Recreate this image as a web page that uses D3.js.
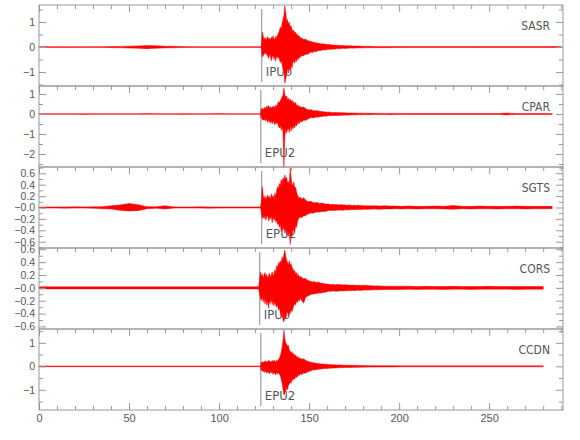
<!DOCTYPE html>
<html>
<head>
<meta charset="utf-8">
<script src="https://cdn.jsdelivr.net/npm/d3@7"></script>
<style>
  body { margin: 0; background: #fff; }
  svg { display: block; font-family: "Liberation Sans Narrow", "DejaVu Sans Condensed", "Liberation Sans", sans-serif; }
</style>
</head>
<body>
<script>
// station names, phase picks (seconds) and phase names
var stations = ["SASR", "CPAR", "SGTS", "CORS", "CCDN"];
var phases = ["IPU0", "EPU2", "EPU2", "IPU0", "EPU2"];
var picks = [123.7, 123.2, 123.7, 122.6, 123.2];

// y range of every panel (as drawn)
var yDomains = [[-1.56, 1.68], [-2.65, 1.4], [-0.71, 0.71], [-0.64, 0.62], [-1.86, 1.59]];
var yMajor = [[-1, 0, 1], [-2, -1, 0, 1], [-0.6, -0.4, -0.2, 0, 0.2, 0.4, 0.6], [-0.6, -0.4, -0.2, 0, 0.2, 0.4, 0.6], [-1, 0, 1]];
var yLabels = [["\u22121", "0", "1"], ["\u22122", "\u22121", "0", "1"],
  ["\u22120.6", "\u22120.4", "\u22120.2", "\u22120.0", "0.2", "0.4", "0.6"],
  ["\u22120.6", "\u22120.4", "\u22120.2", "\u22120.0", "0.2", "0.4", "0.6"],
  ["\u22121", "0", "1"]];
var yMinor = [[-1.5, -0.5, 0.5, 1.5], [-2.5, -1.5, -0.5, 0.5], [-0.7, -0.5, -0.3, -0.1, 0.1, 0.3, 0.5, 0.7],
  [-0.5, -0.3, -0.1, 0.1, 0.3, 0.5], [-1.5, -0.5, 0.5, 1.5]];
var xMajor = [0, 50, 100, 150, 200, 250];
var xMinor = [10, 20, 30, 40, 60, 70, 80, 90, 110, 120, 130, 140, 160, 170, 180, 190, 210, 220, 230, 240, 260, 270, 280, 290];

// sample times (s) of the trace envelopes
var times = [0, 5, 10, 15, 20, 25, 30, 35, 40, 45, 50, 55, 60, 65, 70, 75, 80, 85, 90, 95, 100, 105, 110, 115, 120, 122,
  123, 123.5, 124, 124.5, 125, 125.5, 126, 126.5, 127, 127.5, 128, 128.5, 129, 129.5, 130, 130.5, 131, 131.5, 132, 132.5,
  133, 133.5, 134, 134.5, 135, 135.5, 136, 136.5, 137, 137.5, 138, 138.5, 139, 139.5, 140, 140.5, 141, 141.5, 142, 142.5,
  143, 143.5, 144, 144.5, 145,
  146, 147, 148, 149, 150, 151, 152, 153, 154, 155, 156, 157, 158, 159, 160, 161, 162, 163, 164, 165, 166, 167, 168, 169,
  170, 171, 172, 173, 174, 175, 176, 177, 178, 179, 180,
  183, 186, 189, 192, 195, 198, 201,
  205, 210, 215, 220, 225, 230, 235, 240, 245, 250, 255, 260, 265, 270, 275, 280, 285, 290];

// upper / lower envelope of each trace
var sasrHi = [.015, .015, .015, .015, .015, .015, .015, .015, .02, .025, .035, .045, .06, .05, .035, .03, .02, .015, .015, .015, .015, .015, .015, .015, .015, .015,
  .015, .05, .60, .45, .30, .38, .28, .35, .42, .30, .36, .28, .40, .33, .45, .35, .30, .42, .38, .48, .55, .65, .80, .70, .95, 1.10, 1.25, 1.65, 1.40, 1.05, 1.10, .90, 1.00, .80, .85, .70, .62, .68, .55, .60, .48, .52, .42, .45, .38,
  .35, .30, .32, .26, .24, .22, .20, .18, .17, .15, .14, .12, .13, .11, .10, .10, .09, .08, .08, .07, .07, .06, .06, .06, .05, .05, .05, .05, .04, .04, .04, .04, .04, .03, .03,
  .03, .025, .025, .025, .025, .02, .02,
  .02, .02, .02, .02, .02, .02, .02, .02, .02, .02, .02, .02, .02, .02, .02, .02, .02, .02];
var sasrLo = [-.015, -.015, -.015, -.02, -.015, -.015, -.015, -.015, -.025, -.03, -.04, -.05, -.065, -.045, -.035, -.03, -.02, -.015, -.015, -.015, -.015, -.015, -.015, -.015, -.015, -.015,
  -.015, -.05, -.40, -.35, -.28, -.22, -.30, -.25, -.38, -.45, -.30, -.35, -.55, -.40, -.32, -.50, -.38, -.57, -.35, -.45, -.40, -.50, -.62, -.55, -.70, -.85, -.95, -1.45, -1.30, -1.10, -.85, -1.05, -.80, -.95, -.75, -.85, -.60, -.55, -.65, -.50, -.58, -.45, -.50, -.40, -.42,
  -.33, -.36, -.28, -.30, -.25, -.20, -.22, -.17, -.19, -.14, -.15, -.13, -.11, -.12, -.10, -.09, -.10, -.08, -.09, -.07, -.06, -.07, -.06, -.05, -.06, -.05, -.05, -.04, -.05, -.04, -.04, -.04, -.03, -.04, -.03,
  -.03, -.025, -.025, -.025, -.025, -.02, -.02,
  -.02, -.02, -.02, -.02, -.02, -.02, -.02, -.02, -.02, -.02, -.02, -.02, -.02, -.02, -.02, -.02, -.02, -.02];

var cparHi = [.015, .015, .015, .015, .015, .015, .015, .015, .015, .015, .015, .015, .02, .015, .015, .015, .015, .015, .015, .015, .02, .015, .015, .015, .015, .015,
  .015, .25, .30, .22, .28, .35, .25, .40, .32, .42, .30, .36, .28, .38, .33, .40, .30, .45, .38, .50, .62, .55, .68, .75, .85, .95, 1.30, 1.00, .85, .90, .70, .80, .65, .75, .60, .70, .55, .62, .50, .58, .45, .40, .45, .35, .38,
  .32, .35, .28, .22, .20, .22, .18, .16, .17, .15, .14, .12, .11, .10, .09, .10, .08, .08, .07, .08, .07, .06, .07, .06, .06, .05, .05, .05, .05, .04, .05, .04, .04, .04, .04,
  .035, .035, .03, .03, .03, .03, .03,
  .025, .025, .02, .025, .02, .025, .02, .025, .02, .025, .025, .045, .025, .02, .025, .02, .02, null];
var cparLo = [-.015, -.015, -.015, -.015, -.015, -.02, -.015, -.015, -.015, -.015, -.015, -.015, -.015, -.015, -.015, -.015, -.02, -.015, -.015, -.015, -.015, -.015, -.015, -.015, -.015, -.015,
  -.015, -.20, -.28, -.32, -.25, -.30, -.35, -.28, -.42, -.30, -.38, -.45, -.32, -.50, -.35, -.42, -.55, -.40, -.48, -.45, -.60, -.70, -.58, -.80, -.65, -.90, -2.70, -1.20, -.75, -.95, -.80, -.70, -.92, -.65, -.85, -.60, -.75, -.58, -.70, -.52, -.60, -.48, -.40, -.50, -.35,
  -.40, -.30, -.32, -.26, -.22, -.18, -.20, -.18, -.15, -.16, -.13, -.14, -.10, -.11, -.10, -.08, -.09, -.08, -.08, -.07, -.07, -.07, -.06, -.06, -.05, -.06, -.05, -.05, -.04, -.05, -.04, -.04, -.04, -.04, -.03,
  -.035, -.03, -.03, -.03, -.035, -.03, -.03,
  -.025, -.02, -.025, -.02, -.025, -.02, -.025, -.02, -.025, -.02, -.025, -.045, -.025, -.025, -.02, -.025, -.02, null];

var sgtsHi = [.01, .01, .01, .01, .012, .01, .012, .015, .03, .045, .07, .05, .015, .012, .03, .01, .01, .01, .012, .01, .01, .01, .01, .01, .01, .01,
  .01, .10, .37, .22, .15, .20, .14, .18, .22, .16, .20, .13, .24, .18, .21, .15, .25, .20, .30, .37, .33, .42, .38, .49, .45, .52, .48, .57, .50, .53, .44, .46, .40, .69, .52, .42, .38, .45, .34, .36, .28, .22, .19, .17, .18,
  .15, .17, .13, .11, .10, .11, .09, .08, .09, .08, .07, .08, .07, .06, .06, .06, .05, .055, .05, .055, .045, .05, .05, .045, .045, .04, .045, .04, .035, .04, .035, .04, .035, .035, .03,
  .03, .03, .025, .03, .025, .025, .02,
  .025, .02, .02, .025, .02, .035, .02, .02, .025, .02, .02, .02, .025, .02, .02, .02, .02, null];
var sgtsLo = [-.01, -.01, -.01, -.012, -.01, -.01, -.012, -.02, -.025, -.05, -.06, -.055, -.02, -.012, -.025, -.01, -.01, -.01, -.01, -.012, -.01, -.01, -.01, -.01, -.01, -.01,
  -.01, -.08, -.19, -.15, -.20, -.14, -.22, -.16, -.13, -.24, -.18, -.20, -.15, -.27, -.17, -.22, -.19, -.26, -.22, -.30, -.27, -.35, -.30, -.42, -.36, -.40, -.33, -.45, -.38, -.48, -.36, -.50, -.42, -.65, -.48, -.50, -.40, -.36, -.44, -.32, -.35, -.26, -.20, -.19, -.16,
  -.18, -.14, -.15, -.12, -.11, -.09, -.10, -.09, -.08, -.08, -.08, -.07, -.07, -.07, -.06, -.05, -.055, -.05, -.055, -.045, -.05, -.045, -.045, -.05, -.04, -.04, -.045, -.035, -.04, -.035, -.04, -.035, -.035, -.035, -.03,
  -.03, -.025, -.03, -.025, -.025, -.02, -.025,
  -.02, -.025, -.02, -.02, -.025, -.03, -.02, -.025, -.02, -.02, -.025, -.02, -.02, -.025, -.02, -.02, -.02, null];

var corsHi = [.016, .016, .016, .016, .016, .016, .016, .016, .016, .016, .016, .016, .016, .016, .016, .016, .016, .016, .016, .016, .016, .016, .016, .016, .016, .016,
  .25, .18, .22, .15, .20, .24, .17, .21, .14, .19, .23, .16, .20, .25, .18, .22, .28, .24, .35, .30, .40, .36, .42, .38, .48, .44, .52, .59, .50, .43, .40, .36, .42, .35, .38, .32, .30, .25, .27, .22, .24, .19, .21, .17, .18,
  .16, .14, .15, .12, .11, .10, .09, .10, .08, .09, .08, .07, .07, .06, .06, .055, .05, .055, .05, .05, .055, .05, .05, .045, .05, .045, .045, .04, .045, .04, .04, .04, .04, .035, .04,
  .035, .03, .03, .025, .025, .025, .025,
  .025, .02, .025, .02, .02, .025, .02, .02, .02, .025, .02, .02, .02, .02, .02, .02, null, null];
var corsLo = [-.016, -.016, -.016, -.016, -.016, -.016, -.016, -.016, -.016, -.016, -.016, -.016, -.016, -.016, -.016, -.016, -.016, -.016, -.016, -.016, -.016, -.016, -.016, -.016, -.016, -.016,
  -.17, -.20, -.14, -.22, -.16, -.25, -.18, -.27, -.20, -.32, -.21, -.24, -.18, -.26, -.20, -.28, -.23, -.27, -.30, -.27, -.35, -.31, -.38, -.45, -.40, -.50, -.53, -.46, -.48, -.42, -.36, -.43, -.38, -.40, -.34, -.37, -.32, -.28, -.24, -.27, -.20, -.23, -.18, -.21, -.16,
  -.20, -.24, -.15, -.13, -.12, -.10, -.10, -.09, -.09, -.08, -.08, -.08, -.07, -.07, -.06, -.05, -.055, -.05, -.05, -.055, -.05, -.05, -.045, -.05, -.045, -.045, -.04, -.045, -.04, -.04, -.04, -.035, -.04, -.04, -.035,
  -.035, -.03, -.03, -.025, -.025, -.025, -.025,
  -.02, -.025, -.02, -.02, -.025, -.02, -.02, -.025, -.02, -.02, -.02, -.02, -.025, -.02, -.02, -.02, null, null];

var ccdnHi = [.015, .015, .015, .015, .015, .015, .015, .015, .015, .015, .015, .015, .015, .015, .015, .015, .015, .015, .015, .015, .015, .015, .015, .015, .015, .015,
  .015, .17, .20, .15, .22, .18, .24, .16, .21, .26, .19, .23, .17, .25, .20, .27, .22, .18, .26, .23, .28, .35, .45, .60, .80, 1.10, 1.55, 1.20, 1.00, .95, .85, .90, .70, .65, .58, .62, .50, .55, .45, .48, .42, .38, .41, .33, .36,
  .30, .32, .26, .22, .20, .17, .16, .14, .13, .12, .11, .10, .10, .09, .08, .08, .07, .07, .07, .06, .06, .06, .06, .05, .05, .05, .045, .05, .045, .04, .045, .04, .04, .035, .035,
  .03, .03, .025, .025, .025, .025, .02,
  .02, .02, .02, .02, .02, .02, .02, .02, .02, .02, .02, .02, .02, .02, .02, .02, null, null];
var ccdnLo = [-.015, -.015, -.015, -.015, -.015, -.015, -.015, -.015, -.015, -.015, -.015, -.015, -.015, -.015, -.015, -.015, -.015, -.015, -.015, -.015, -.015, -.015, -.015, -.015, -.015, -.015,
  -.015, -.20, -.16, -.24, -.18, -.27, -.20, -.30, -.22, -.25, -.33, -.21, -.28, -.24, -.35, -.26, -.30, -.37, -.27, -.32, -.28, -.34, -.40, -.55, -.70, -.95, -1.22, -1.15, -1.05, -.90, -1.00, -.82, -.75, -.68, -.72, -.55, -.60, -.50, -.55, -.44, -.46, -.44, -.36, -.40, -.32,
  -.35, -.28, -.30, -.25, -.21, -.19, -.15, -.16, -.13, -.13, -.11, -.11, -.09, -.09, -.09, -.08, -.08, -.07, -.07, -.07, -.06, -.06, -.05, -.06, -.05, -.05, -.045, -.05, -.045, -.04, -.045, -.04, -.04, -.035, -.035,
  -.03, -.03, -.025, -.025, -.025, -.025, -.02,
  -.02, -.02, -.02, -.02, -.02, -.02, -.02, -.02, -.02, -.02, -.02, -.02, -.02, -.02, -.02, -.02, null, null];

var his = [sasrHi, cparHi, sgtsHi, corsHi, ccdnHi];
var los = [sasrLo, cparLo, sgtsLo, corsLo, ccdnLo];

// layout
var svgW = 580, svgH = 440;
var plotLeft = 39, plotRight = 563, plotTop = 5, panelH = 81;
var axisColor = "#999", textColor = "#555";

var svg = d3.select("body").append("svg")
  .attr("width", svgW)
  .attr("height", svgH);

var x = d3.scaleLinear().domain([0, 291]).range([plotLeft, plotRight]);

function styleAxis(g) {
  g.select(".domain").remove();
  g.selectAll("line").attr("stroke", axisColor);
  g.selectAll("text").attr("fill", textColor).style("font-size", "11px");
}

stations.forEach(function(name, k) {
  var y0 = plotTop + k * panelH;
  var y = d3.scaleLinear().domain(yDomains[k]).range([y0 + panelH, y0]);
  var g = svg.append("g");

  // phase pick line and name (under the trace)
  g.append("line")
    .attr("x1", x(picks[k])).attr("x2", x(picks[k]))
    .attr("y1", y0 + 4).attr("y2", y0 + panelH - 4)
    .attr("stroke", "#888").attr("stroke-width", 1);
  g.append("text")
    .attr("x", x(picks[k]) + 4)
    .attr("y", y0 + 71)
    .attr("fill", textColor)
    .style("font-size", "13px")
    .text(phases[k]);

  // trace envelope
  var pts = times.map(function(t, i) { return { t: t, hi: his[k][i], lo: los[k][i] }; });
  var area = d3.area()
    .defined(function(d) { return d.hi != null; })
    .x(function(d) { return x(d.t); })
    .y0(function(d) { return y(d.lo); })
    .y1(function(d) { return y(d.hi); });
  g.append("path")
    .datum(pts)
    .attr("d", area)
    .attr("fill", "#ff0000")
    .attr("stroke", "#ff0000")
    .attr("stroke-width", 0.5)
    .attr("stroke-linejoin", "round");

  // frame
  g.append("rect")
    .attr("x", plotLeft).attr("y", y0)
    .attr("width", plotRight - plotLeft).attr("height", panelH)
    .attr("fill", "none").attr("stroke", axisColor);

  // left axis with labels, ticks pointing inward
  g.append("g")
    .attr("transform", "translate(" + plotLeft + ",0)")
    .call(d3.axisLeft(y).tickValues(yMajor[k]).tickSizeInner(-7).tickSizeOuter(0).tickPadding(4)
      .tickFormat(function(d, i) { return yLabels[k][i]; }))
    .call(styleAxis)
    .selectAll("text").style("font-size", "10.5px");
  g.append("g")
    .attr("transform", "translate(" + plotLeft + ",0)")
    .call(d3.axisLeft(y).tickValues(yMinor[k]).tickSize(-4).tickFormat(""))
    .call(styleAxis);

  // right axis, no labels
  g.append("g")
    .attr("transform", "translate(" + plotRight + ",0)")
    .call(d3.axisRight(y).tickValues(yMajor[k]).tickSize(-7).tickFormat(""))
    .call(styleAxis);
  g.append("g")
    .attr("transform", "translate(" + plotRight + ",0)")
    .call(d3.axisRight(y).tickValues(yMinor[k]).tickSize(-4).tickFormat(""))
    .call(styleAxis);

  // time ticks on the top edge of each panel
  g.append("g")
    .attr("transform", "translate(0," + y0 + ")")
    .call(d3.axisTop(x).tickValues(xMajor).tickSize(-7).tickFormat(""))
    .call(styleAxis);
  g.append("g")
    .attr("transform", "translate(0," + y0 + ")")
    .call(d3.axisTop(x).tickValues(xMinor).tickSize(-4).tickFormat(""))
    .call(styleAxis);

  // station name
  g.append("text")
    .attr("x", 550)
    .attr("y", y0 + 25)
    .attr("text-anchor", "end")
    .attr("fill", textColor)
    .style("font-size", "12px")
    .text(name);
});

// time axis at the bottom
var yBottom = plotTop + stations.length * panelH;
svg.append("g")
  .attr("transform", "translate(0," + yBottom + ")")
  .call(d3.axisBottom(x).tickValues(xMajor).tickSizeInner(-7).tickSizeOuter(0).tickPadding(4))
  .call(styleAxis);
svg.append("g")
  .attr("transform", "translate(0," + yBottom + ")")
  .call(d3.axisBottom(x).tickValues(xMinor).tickSize(-4).tickFormat(""))
  .call(styleAxis);
</script>
</body>
</html>
